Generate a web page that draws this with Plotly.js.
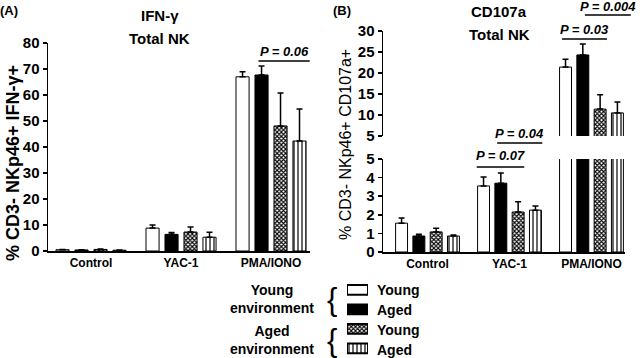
<!DOCTYPE html>
<html><head><meta charset="utf-8">
<script src="https://cdn.plot.ly/plotly-3.0.1.min.js"></script>
<style>html,body{margin:0;padding:0;background:#fff}#chart{width:640px;height:358px}</style>
</head><body><div id="chart"></div>
<script>
// ---------- data ----------
const categories = ['Control', 'YAC-1', 'PMA/IONO'];
const seriesNames = ['Young env, Young', 'Young env, Aged', 'Aged env, Young', 'Aged env, Aged'];

// Panel A: IFN-γ, Total NK
const ifnYoungEnvYoung = [0.5, 8.8, 67.0];
const ifnYoungEnvAged  = [0.4, 6.4, 67.7];
const ifnAgedEnvYoung  = [0.6, 7.3, 48.1];
const ifnAgedEnvAged   = [0.3, 5.3, 42.3];
const ifnErrYoungEnvYoung = [0.1, 1.2, 1.9];
const ifnErrYoungEnvAged  = [0.1, 0.7, 3.5];
const ifnErrAgedEnvYoung  = [0.2, 1.9, 12.7];
const ifnErrAgedEnvAged   = [0.05, 1.9, 12.3];

// Panel B: CD107a, Total NK
const cdYoungEnvYoung = [1.55, 3.55, 21.4];
const cdYoungEnvAged  = [0.86, 3.70, 24.3];
const cdAgedEnvYoung  = [1.08, 2.15, 11.4];
const cdAgedEnvAged   = [0.86, 2.25, 10.5];
const cdErrYoungEnvYoung = [0.28, 0.48, 1.9];
const cdErrYoungEnvAged  = [0.10, 0.55, 2.6];
const cdErrAgedEnvYoung  = [0.20, 0.55, 3.4];
const cdErrAgedEnvAged   = [0.05, 0.22, 2.6];

const ifnTicks = [0, 10, 20, 30, 40, 50, 60, 70, 80];
const cdTicksLower = [0, 1, 2, 3, 4, 5];
const cdTicksUpper = [5, 10, 15, 20, 25, 30];

const legendLabels = ['Young', 'Aged', 'Young', 'Aged'];
const envLabels = ['Young<br>environment', 'Aged<br>environment'];
const pTextA = ['P = 0.06'];
const pTextB = ['P = 0.07', 'P = 0.04', 'P = 0.03', 'P = 0.004'];

// ---------- styles ----------
const W = 640, H = 358;
const px = x => x / W;
const py = y => 1 - y / H;
const FONT = 'Liberation Sans, Arial, sans-serif';

const styles = [
  {color: '#ffffff', pattern: {shape: ''}},
  {color: '#000000', pattern: {shape: ''}},
  {color: '#ffffff', pattern: {shape: 'x', fgcolor: '#000', bgcolor: '#fff', size: 3, solidity: 0.6}},
  {color: '#ffffff', pattern: {shape: '|', fgcolor: '#000', bgcolor: '#fff', size: 4, solidity: 0.3}}
];

const domXA = [px(48), px(310)], rangeXA = [-0.478, 2.433];
const domYA = [py(251), py(43)], rangeYA = [0, 80];
const domXB = [px(383), px(625)], rangeXB = [-0.543, 2.409];
const domYB1 = [py(252), py(159)], rangeYB1 = [0, 5];
const domYB2 = [py(136), py(31)], rangeYB2 = [5, 30];

function mapv(v, dom, rng) { return dom[0] + (v - rng[0]) / (rng[1] - rng[0]) * (dom[1] - dom[0]); }

function barTrace(i, y, err, xa, ya) {
  return {
    type: 'bar', x: categories, y: y, name: seriesNames[i], xaxis: xa, yaxis: ya,
    showlegend: false, hoverinfo: 'skip',
    marker: {color: styles[i].color, pattern: styles[i].pattern, line: {color: '#000', width: 1}},
    error_y: {type: 'data', symmetric: false, array: err, arrayminus: err.map(() => 0),
              color: '#000', thickness: 1.5, width: 3}
  };
}

const A = [ifnYoungEnvYoung, ifnYoungEnvAged, ifnAgedEnvYoung, ifnAgedEnvAged];
const AE = [ifnErrYoungEnvYoung, ifnErrYoungEnvAged, ifnErrAgedEnvYoung, ifnErrAgedEnvAged];
const B = [cdYoungEnvYoung, cdYoungEnvAged, cdAgedEnvYoung, cdAgedEnvAged];
const BE = [cdErrYoungEnvYoung, cdErrYoungEnvAged, cdErrAgedEnvYoung, cdErrAgedEnvAged];

const traces = [];
for (let i = 0; i < 4; i++) traces.push(barTrace(i, A[i], AE[i], 'x', 'y'));
for (let i = 0; i < 4; i++) traces.push(barTrace(i, B[i], BE[i], 'x2', 'y2'));
for (let i = 0; i < 4; i++) traces.push(barTrace(i, B[i], BE[i], 'x2', 'y3'));

// legend swatches: one horizontal bar per legend row
legendLabels.forEach((lab, i) => {
  traces.push({
    type: 'bar', orientation: 'h', y: [i], x: [1], name: lab,
    xaxis: 'x3', yaxis: 'y4', width: 0.5, offsetgroup: 'legend', showlegend: false, hoverinfo: 'skip',
    marker: {color: styles[i].color, pattern: styles[i].pattern, line: {color: '#000', width: 2}}
  });
});

const tickFont = {family: FONT, size: 15, color: '#000', weight: 'bold'};
const catFont = {family: FONT, size: 12, color: '#000', weight: 'bold'};

function yax(dom, rng, ticks, anchor) {
  return {domain: dom, range: rng, anchor: anchor, tickvals: ticks, ticktext: ticks.map(String),
          showline: true, linecolor: '#000', linewidth: 1.5, ticks: 'outside', ticklen: 4,
          tickwidth: 1.5, tickcolor: '#000', showgrid: false, zeroline: false, tickfont: tickFont,
          fixedrange: true};
}
function xax(dom, rng, anchor) {
  return {domain: dom, range: rng, anchor: anchor, type: 'category', showline: true, linecolor: '#000',
          linewidth: 1.5, ticks: '', showgrid: false, zeroline: false, tickfont: catFont, fixedrange: true};
}

const ann = [];
const shapes = [];
function txt(text, x, y, font, extra) {
  ann.push(Object.assign({text: text, x: px(x), y: py(y), xref: 'paper', yref: 'paper',
    showarrow: false, xanchor: 'center', yanchor: 'middle', font: Object.assign({family: FONT, color: '#000'}, font)}, extra || {}));
}
const bold13 = {size: 13, weight: 'bold'};
const bold15 = {size: 15, weight: 'bold'};
txt('(A)', 9, 10, bold13);
txt('(B)', 342, 10, bold13);
txt('IFN-γ', 160, 16, bold15);
txt('Total NK', 159, 39, bold15);
txt('CD107a', 499, 12, bold15);
txt('Total NK', 499, 35, bold15);
txt('% CD3- NKp46+ IFN-γ+', 13, 163, {size: 18, weight: 'bold'}, {textangle: -90});
txt('% CD3- NKp46+ CD107a+', 345, 145, {size: 16}, {textangle: -90});

// P-value brackets
const pStyle = {size: 13, weight: 'bold', style: 'italic'};
function bracket(text, u0, u1, dom, rng, lineY, textY) {
  const x0 = mapv(u0, dom, rng), x1 = mapv(u1, dom, rng);
  shapes.push({type: 'line', xref: 'paper', yref: 'paper', x0: x0, x1: x1, y0: py(lineY), y1: py(lineY),
               line: {color: '#000', width: 1.5}});
  ann.push({text: text, x: (x0 + x1) / 2, y: py(textY), xref: 'paper', yref: 'paper', showarrow: false,
            xanchor: 'center', yanchor: 'middle', font: Object.assign({family: FONT, color: '#000'}, pStyle)});
}
bracket(pTextA[0], 1.86, 2.43, domXA, rangeXA, 61, 52);
bracket(pTextB[0], 0.60, 1.18, domXB, rangeXB, 167, 155);
bracket(pTextB[1], 0.85, 1.40, domXB, rangeXB, 143, 133);
bracket(pTextB[2], 1.64, 2.19, domXB, rangeXB, 39, 30);
bracket(pTextB[3], 1.92, 2.48, domXB, rangeXB, 15, 7);

// legend text
const leg14 = {size: 14, weight: 'bold'};
txt(envLabels[0], 272, 299, leg14);
txt(envLabels[1], 272, 340, leg14);
txt('{', 332, 299, {size: 31}, {});
txt('{', 332, 340, {size: 31}, {});
const rowY = [290, 310, 330, 350];
legendLabels.forEach((l, i) => txt(l, 375, rowY[i], leg14, {xanchor: 'left'}));

const layout = {
  width: W, height: H, margin: {l: 0, r: 0, t: 0, b: 0},
  paper_bgcolor: '#ffffff', plot_bgcolor: 'rgba(0,0,0,0)',
  barmode: 'group', bargap: 0.156, bargroupgap: 0.31,
  showlegend: false,
  xaxis: xax(domXA, rangeXA, 'y'),
  yaxis: yax(domYA, rangeYA, ifnTicks, 'x'),
  xaxis2: xax(domXB, rangeXB, 'y2'),
  yaxis2: yax(domYB1, rangeYB1, cdTicksLower, 'x2'),
  yaxis3: yax(domYB2, rangeYB2, cdTicksUpper, 'x2'),
  xaxis3: {domain: [px(347), px(368)], range: [0, 1], anchor: 'y4', visible: false, fixedrange: true},
  yaxis4: {domain: [py(360), py(280)], range: [3.5, -0.5], anchor: 'x3', visible: false, fixedrange: true},
  annotations: ann, shapes: shapes,
  font: {family: FONT, color: '#000'}
};

Plotly.newPlot('chart', traces, layout, {staticPlot: true, displayModeBar: false});
</script>
</body></html>
